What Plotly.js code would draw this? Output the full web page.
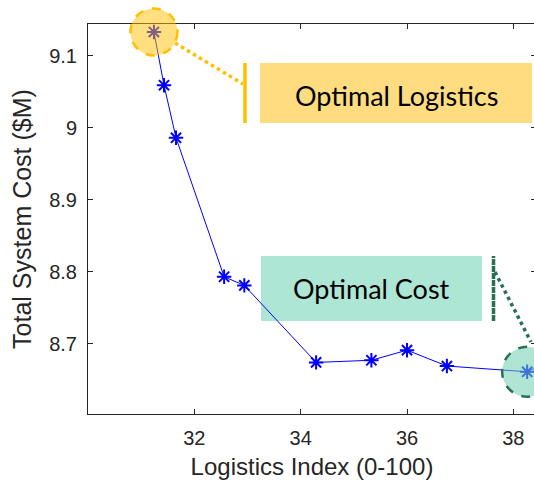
<!DOCTYPE html>
<html>
<head>
<meta charset="utf-8">
<script src="https://cdn.plot.ly/plotly-3.0.1.min.js"></script>
<style>
  html, body { margin: 0; padding: 0; overflow: hidden; background: #fff; }
  #chart { width: 540px; height: 488px; }
</style>
</head>
<body>
<div id="chart"></div>
<script>
// Pareto front: logistics index vs. total system cost
const logisticsIndex = [31.24, 31.43, 31.655, 32.56, 32.94, 34.29, 35.33, 36.0, 36.75, 38.26, 38.8];
const totalCost      = [9.133, 9.059, 8.986, 8.793, 8.781, 8.674, 8.677, 8.691, 8.669, 8.661, 8.68];

const xTicks = [32, 34, 36, 38];
const yTicks = [8.7, 8.8, 8.9, 9.0, 9.1];
const yTickText = ['8.7', '8.8', '8.9', '9', '9.1'];

const optLogisticsIdx = 0;                       // highest-logistics solution
const optCostIdx = 9;                            // cheapest solution

const labelLogistics = 'Optimal Logistics';
const labelCost = 'Optimal Cost';

// plot area geometry (pixels) and axis ranges
const L = 88, T = 24, W = 448, H = 390;
const xRange = [30, 30 + W / 53.17];
const yRange = [8.60236, 8.60236 + H / 720];
const px = x => (x - L) / W;          // page px -> paper x
const py = y => 1 - (y - T) / H;      // page px -> paper y
const dx = v => (v - xRange[0]) / (xRange[1] - xRange[0]);   // data -> paper x
const dy = v => (v - yRange[0]) / (yRange[1] - yRange[0]);   // data -> paper y

const ORANGE = '#FFC000';
const ORANGE_FILL = 'rgb(255,220,128)';
const GREEN = 'rgb(40,112,82)';
const TEAL_FILL = 'rgb(174,230,214)';

const trace = {
  x: logisticsIndex,
  y: totalCost,
  type: 'scatter',
  mode: 'lines+markers',
  line: { color: '#0000FF', width: 1 },
  marker: { symbol: 'asterisk-open', size: 12, line: { color: '#0000FF', width: 2 } },
  cliponaxis: true,
  hoverinfo: 'skip'
};

// highlight circle around a data point, in paper space so it is not clipped
function circleAt(i, r, fill, edge) {
  return {
    type: 'circle', layer: 'above',
    xref: 'paper', yref: 'paper',
    xsizemode: 'pixel', ysizemode: 'pixel',
    xanchor: dx(logisticsIndex[i]), yanchor: dy(totalCost[i]),
    x0: -r, x1: r, y0: -r, y1: r,
    fillcolor: fill,
    line: { color: edge, width: 2.5, dash: 'dash' }
  };
}

const shapes = [
  // callout box: optimal logistics
  { type: 'rect', layer: 'above', xref: 'paper', yref: 'paper',
    x0: px(260), x1: px(532), y0: py(123), y1: py(63),
    fillcolor: ORANGE_FILL, line: { width: 0 } },
  { type: 'line', layer: 'above', xref: 'paper', yref: 'paper',
    x0: px(245), x1: px(245), y0: py(123), y1: py(63),
    line: { color: ORANGE, width: 3.5 } },
  { type: 'line', layer: 'above', xref: 'paper', yref: 'paper',
    x0: px(175), x1: px(243), y0: py(43), y1: py(84),
    line: { color: ORANGE, width: 3.5, dash: 'dot' } },
  circleAt(optLogisticsIdx, 23.5, 'rgba(255,192,0,0.5)', ORANGE),

  // callout box: optimal cost
  { type: 'rect', layer: 'below', xref: 'paper', yref: 'paper',
    x0: px(261), x1: px(482), y0: py(321), y1: py(256),
    fillcolor: TEAL_FILL, line: { width: 0 } },
  { type: 'line', layer: 'above', xref: 'paper', yref: 'paper',
    x0: px(493.5), x1: px(493.5), y0: py(321), y1: py(256),
    line: { color: GREEN, width: 3.5, dash: '6px,1px' } },
  { type: 'line', layer: 'above', xref: 'paper', yref: 'paper',
    x0: px(495), x1: px(531), y0: py(272), y1: py(342),
    line: { color: GREEN, width: 3.5, dash: 'dot' } },
  circleAt(optCostIdx, 25, 'rgba(112,208,180,0.55)', GREEN)
];

const annotations = [
  { xref: 'paper', yref: 'paper', x: px(396), y: py(95), text: labelLogistics,
    showarrow: false, xanchor: 'center', yanchor: 'middle',
    font: { family: 'Lato, "Open Sans", sans-serif', size: 27, color: '#000' } },
  { xref: 'paper', yref: 'paper', x: px(371), y: py(288), text: labelCost,
    showarrow: false, xanchor: 'center', yanchor: 'middle',
    font: { family: 'Lato, "Open Sans", sans-serif', size: 27, color: '#000' } }
];

const axisCommon = {
  showgrid: false, zeroline: false,
  showline: true, linecolor: '#262626', linewidth: 1,
  mirror: 'ticks', ticks: 'inside', ticklen: 5, tickwidth: 1, tickcolor: '#262626',
  tickfont: { family: '"Liberation Sans", Arial, sans-serif', size: 20, color: '#262626' }
};

const layout = {
  width: 540, height: 488,
  margin: { l: L, t: T, r: 540 - L - W, b: 488 - T - H },
  paper_bgcolor: '#fff', plot_bgcolor: '#fff',
  showlegend: false,
  xaxis: Object.assign({}, axisCommon, {
    range: xRange,
    tickvals: xTicks,
    ticklabelstandoff: 6,
    title: { text: 'Logistics Index (0-100)', standoff: 10,
      font: { family: '"Liberation Sans", Arial, sans-serif', size: 24, color: '#262626' } }
  }),
  yaxis: Object.assign({}, axisCommon, {
    range: yRange,
    tickvals: yTicks, ticktext: yTickText,
    ticklabelstandoff: 6,
    title: { text: 'Total System Cost ($M)', standoff: 10,
      font: { family: '"Liberation Sans", Arial, sans-serif', size: 25, color: '#262626' } }
  }),
  shapes: shapes,
  annotations: annotations
};

Plotly.newPlot('chart', [trace], layout, { displayModeBar: false, staticPlot: true });
</script>
</body>
</html>
